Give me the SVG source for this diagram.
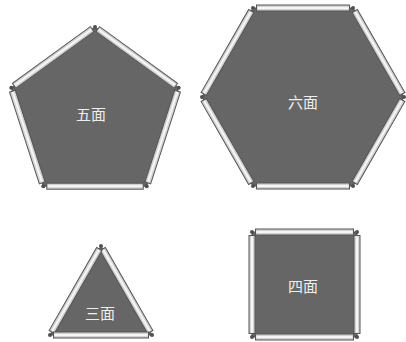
<svg xmlns="http://www.w3.org/2000/svg" width="406" height="342" viewBox="0 0 406 342">
<style>
.face{fill:#666666;stroke:#555555;stroke-width:1}
.bar{fill:#d2d2d2;stroke:#555555;stroke-width:1}
.hi{fill:#f6f6f6}
.j{fill:#505050}
.lbl{font-family:"Noto Sans CJK SC","Noto Sans",sans-serif;font-size:15px;fill:#eeeeee;text-anchor:middle;dominant-baseline:central}
</style>
<rect width="406" height="342" fill="#ffffff"/>
<g id="pentagon">
<polygon class="face" points="95,27 178.7,87.8 146.7,186.2 43.3,186.2 11.3,87.8"/>
<g transform="translate(136.85,57.4) rotate(36)"><rect class="bar" x="-48.2" y="-3" width="96.4" height="6"/><rect class="hi" x="-47.2" y="-1" width="94.4" height="2"/></g>
<g transform="translate(162.7,137) rotate(108)"><rect class="bar" x="-48.2" y="-3" width="96.4" height="6"/><rect class="hi" x="-47.2" y="-1" width="94.4" height="2"/></g>
<g transform="translate(95,186.2)"><rect class="bar" x="-48.2" y="-3" width="96.4" height="6"/><rect class="hi" x="-47.2" y="-1" width="94.4" height="2"/></g>
<g transform="translate(27.3,137) rotate(72)"><rect class="bar" x="-48.2" y="-3" width="96.4" height="6"/><rect class="hi" x="-47.2" y="-1" width="94.4" height="2"/></g>
<g transform="translate(53.15,57.4) rotate(-36)"><rect class="bar" x="-48.2" y="-3" width="96.4" height="6"/><rect class="hi" x="-47.2" y="-1" width="94.4" height="2"/></g>
<circle class="j" cx="95" cy="27" r="2"/><circle class="j" cx="178.7" cy="87.8" r="2"/><circle class="j" cx="146.7" cy="186.2" r="2"/><circle class="j" cx="43.3" cy="186.2" r="2"/><circle class="j" cx="11.3" cy="87.8" r="2"/>
<text class="lbl" x="91" y="113">五面</text>
</g>
<g id="hexagon">
<polygon class="face" points="253,8 353,8 404,97 353,186 253,186 202,97"/>
<g transform="translate(303,8)"><rect class="bar" x="-46.5" y="-3" width="93" height="6"/><rect class="hi" x="-45.5" y="-1" width="91" height="2"/></g>
<g transform="translate(378.5,52.5) rotate(60.19)"><rect class="bar" x="-47.8" y="-3" width="95.6" height="6"/><rect class="hi" x="-46.8" y="-1" width="93.6" height="2"/></g>
<g transform="translate(378.5,141.5) rotate(119.81)"><rect class="bar" x="-47.8" y="-3" width="95.6" height="6"/><rect class="hi" x="-46.8" y="-1" width="93.6" height="2"/></g>
<g transform="translate(303,186)"><rect class="bar" x="-46.5" y="-3" width="93" height="6"/><rect class="hi" x="-45.5" y="-1" width="91" height="2"/></g>
<g transform="translate(227.5,141.5) rotate(60.19)"><rect class="bar" x="-47.8" y="-3" width="95.6" height="6"/><rect class="hi" x="-46.8" y="-1" width="93.6" height="2"/></g>
<g transform="translate(227.5,52.5) rotate(-60.19)"><rect class="bar" x="-47.8" y="-3" width="95.6" height="6"/><rect class="hi" x="-46.8" y="-1" width="93.6" height="2"/></g>
<circle class="j" cx="253" cy="8" r="2"/><circle class="j" cx="353" cy="8" r="2"/><circle class="j" cx="404" cy="97" r="2"/><circle class="j" cx="353" cy="186" r="2"/><circle class="j" cx="253" cy="186" r="2"/><circle class="j" cx="202" cy="97" r="2"/>
<text class="lbl" x="303" y="101">六面</text>
</g>
<g id="triangle">
<polygon class="face" points="101,246 152,335 50,335"/>
<g transform="translate(126.5,290.5) rotate(60.19)"><rect class="bar" x="-47.8" y="-3" width="95.6" height="6"/><rect class="hi" x="-46.8" y="-1" width="93.6" height="2"/></g>
<g transform="translate(75.5,290.5) rotate(-60.19)"><rect class="bar" x="-47.8" y="-3" width="95.6" height="6"/><rect class="hi" x="-46.8" y="-1" width="93.6" height="2"/></g>
<g transform="translate(101,335)"><rect class="bar" x="-47.5" y="-3" width="95" height="6"/><rect class="hi" x="-46.5" y="-1" width="93" height="2"/></g>
<circle class="j" cx="101" cy="246" r="2"/><circle class="j" cx="152" cy="335" r="2"/><circle class="j" cx="50" cy="335" r="2"/>
<text class="lbl" x="100" y="312">三面</text>
</g>
<g id="square">
<polygon class="face" points="252,232 357,232 357,337 252,337"/>
<g transform="translate(304.5,232)"><rect class="bar" x="-49" y="-3" width="98" height="6"/><rect class="hi" x="-48" y="-1" width="96" height="2"/></g>
<g transform="translate(357,284.5) rotate(90)"><rect class="bar" x="-49" y="-3" width="98" height="6"/><rect class="hi" x="-48" y="-1" width="96" height="2"/></g>
<g transform="translate(304.5,337)"><rect class="bar" x="-49" y="-3" width="98" height="6"/><rect class="hi" x="-48" y="-1" width="96" height="2"/></g>
<g transform="translate(252,284.5) rotate(90)"><rect class="bar" x="-49" y="-3" width="98" height="6"/><rect class="hi" x="-48" y="-1" width="96" height="2"/></g>
<circle class="j" cx="252" cy="232" r="2"/><circle class="j" cx="357" cy="232" r="2"/><circle class="j" cx="357" cy="337" r="2"/><circle class="j" cx="252" cy="337" r="2"/>
<text class="lbl" x="303" y="285">四面</text>
</g>
<g id="connectors"/>
</svg>
